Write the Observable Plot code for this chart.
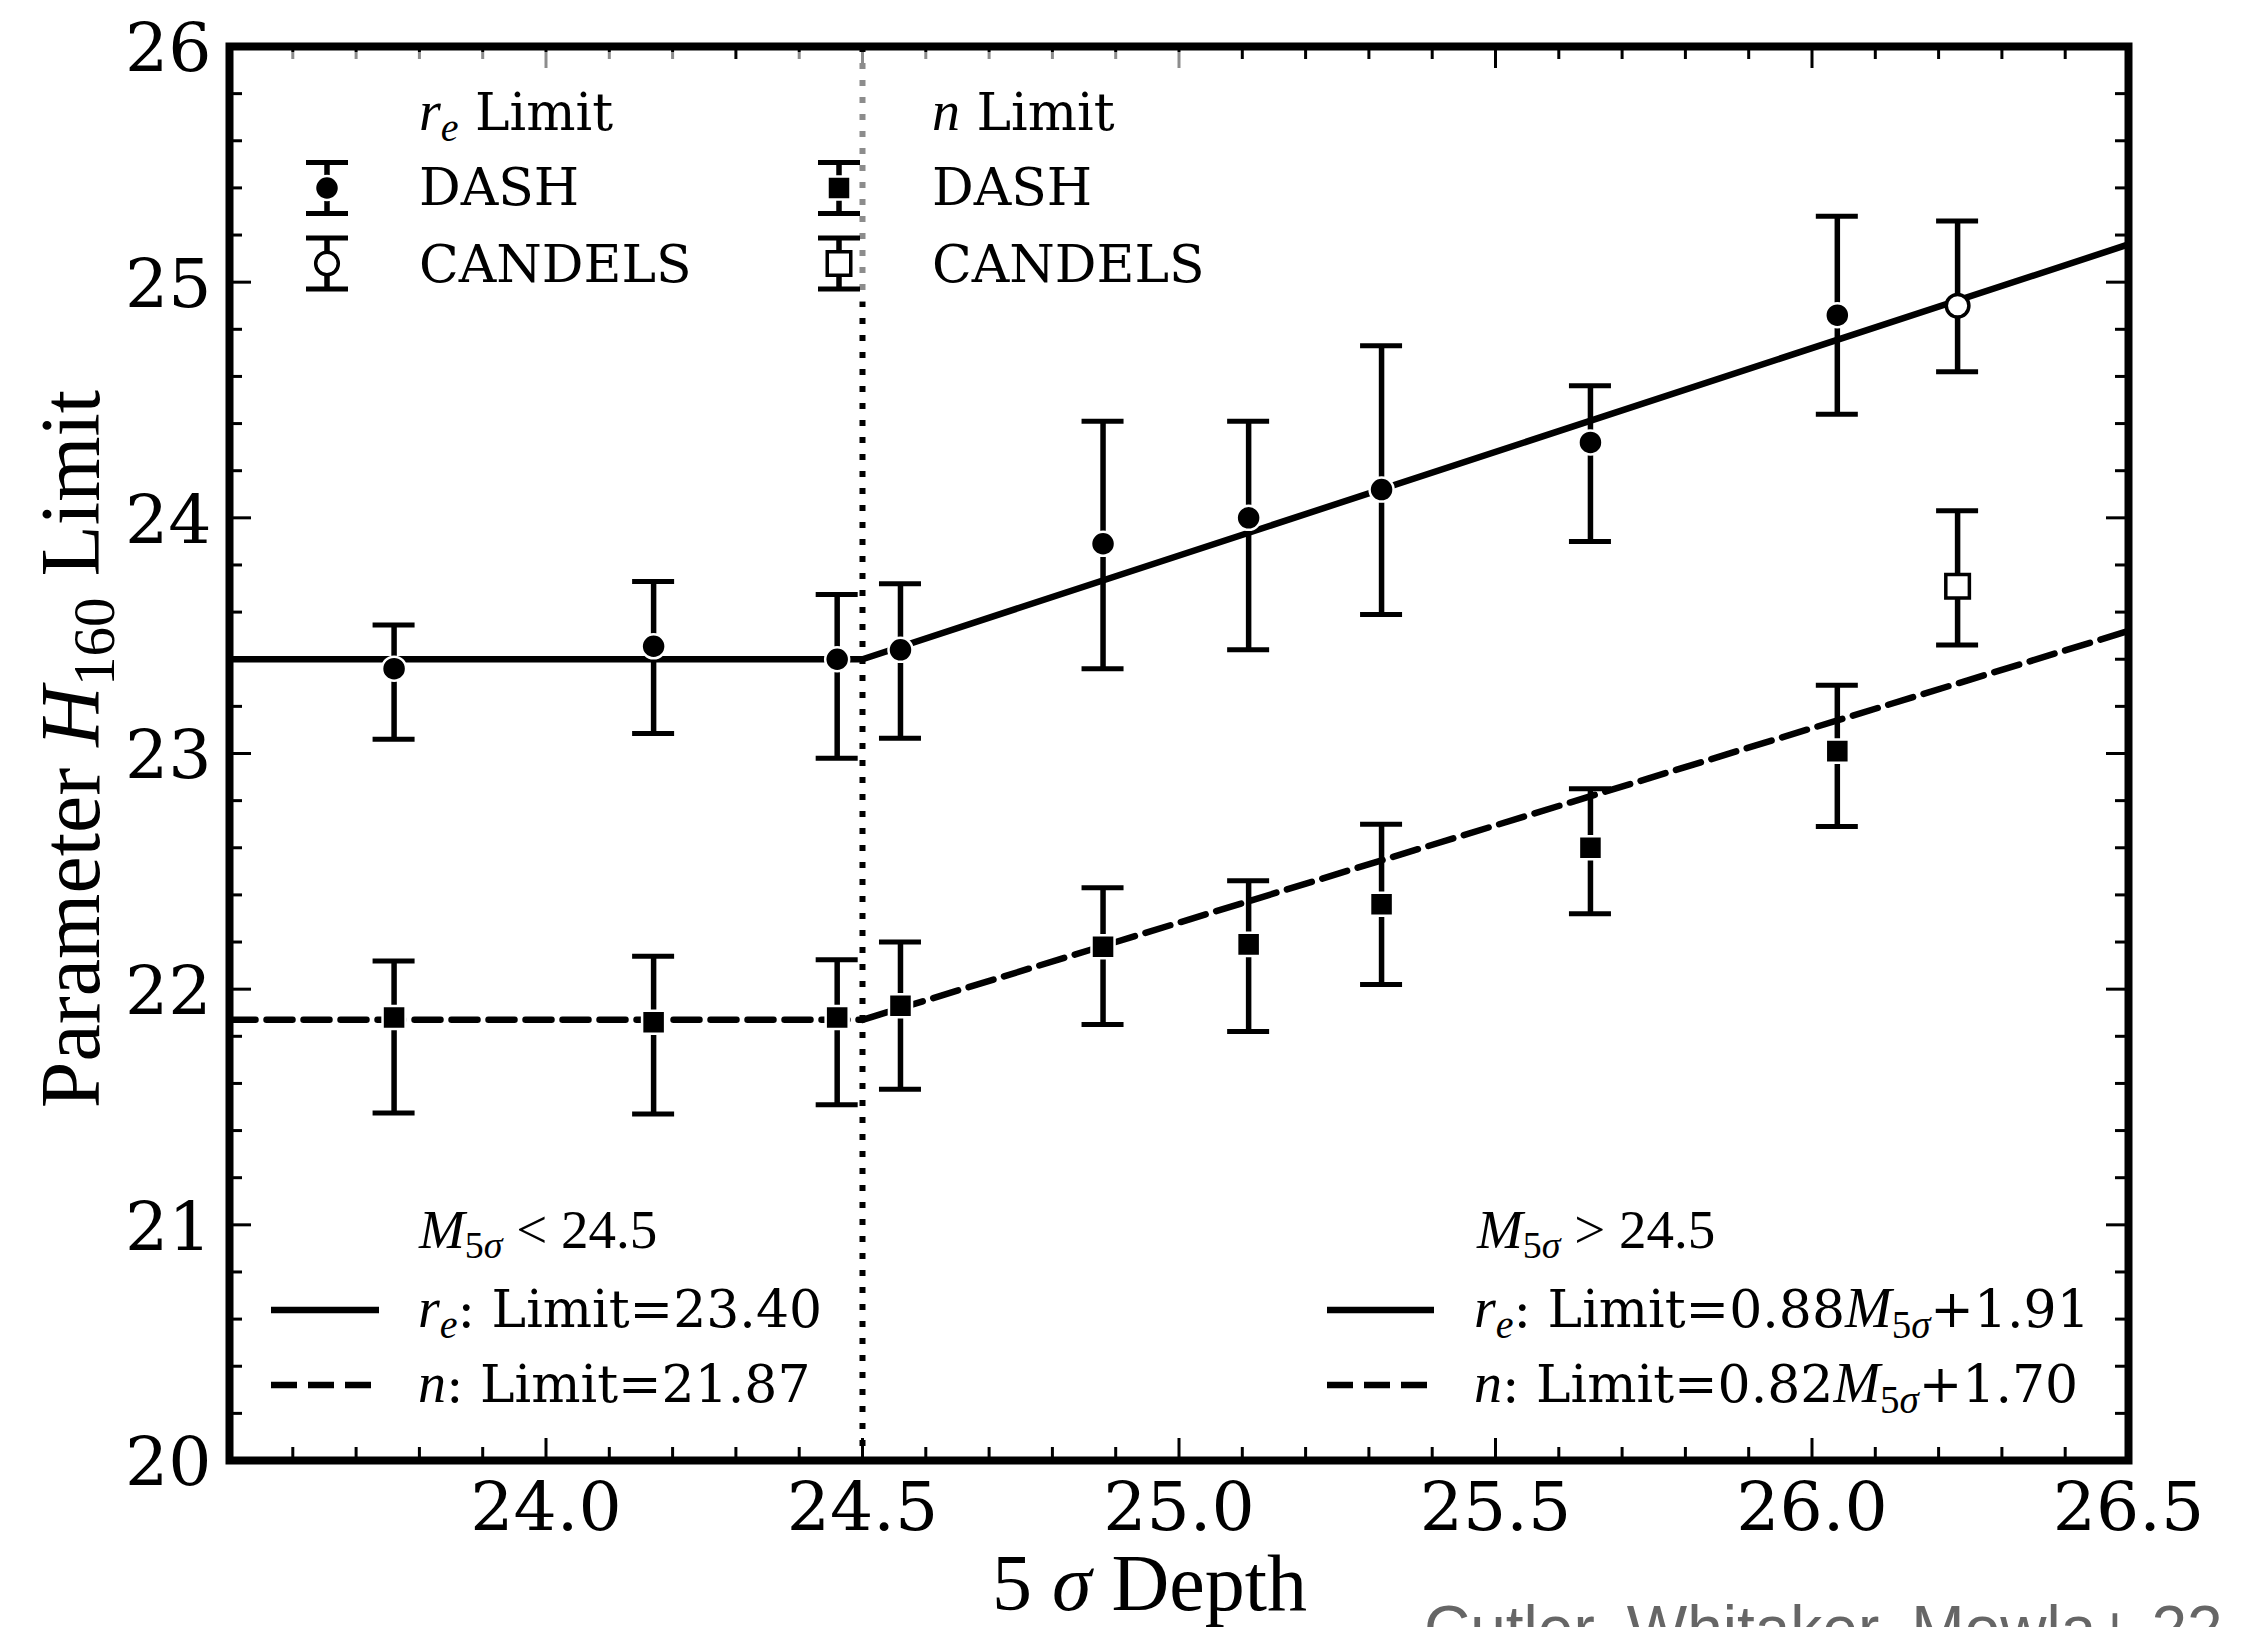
<!DOCTYPE html>
<html>
<head>
<meta charset="utf-8">
<script src="https://cdn.jsdelivr.net/npm/d3@7"></script>
<script src="https://cdn.jsdelivr.net/npm/@observablehq/plot@0.6"></script>
<style>
html, body { margin: 0; padding: 0; background: #fff; }
#wrap { position: relative; width: 2249px; height: 1627px; overflow: hidden; background: #fff; }
#caption { position: absolute; left: 1424px; top: 1597px; font-family: "Liberation Sans", Arial, sans-serif;
  font-size: 64px; line-height: 64px; color: #666; white-space: nowrap; }
</style>
</head>
<body>
<div id="wrap"><div id="caption">Cutler, Whitaker, Mowla+ 22</div></div>
<script>
// ---------------- data ----------------
const depthDash = [23.76, 24.17, 24.46, 24.56, 24.88, 25.11, 25.32, 25.65, 26.04];
const reDash    = [23.36, 23.455, 23.40, 23.44, 23.89, 24.00, 24.12, 24.32, 24.86];
const reDashLo  = [23.06, 23.085, 22.98, 23.065, 23.36, 23.44, 23.59, 23.90, 24.44];
const reDashHi  = [23.545, 23.73, 23.675, 23.72, 24.41, 24.41, 24.73, 24.56, 25.28];
const nDash     = [21.88, 21.86, 21.88, 21.93, 22.18, 22.19, 22.36, 22.60, 23.01];
const nDashLo   = [21.475, 21.47, 21.51, 21.575, 21.85, 21.82, 22.02, 22.32, 22.69];
const nDashHi   = [22.12, 22.14, 22.125, 22.20, 22.43, 22.46, 22.70, 22.85, 23.29];

const depthCandels = [26.23];
const reCandels    = [24.90];
const reCandelsLo  = [24.62];
const reCandelsHi  = [25.26];
const nCandels     = [23.71];
const nCandelsLo   = [23.46];
const nCandelsHi   = [24.03];

// fitted relations
const fitDepth   = [23.5, 24.5, 24.5, 26.5];
const fitSegment = ["low", "low", "high", "high"];
const reFit      = [23.40, 23.40, 23.40, 25.16];
const nFit       = [21.87, 21.87, 21.87, 23.52];
const breakDepth = [24.5];

const xTickValues = [24.0, 24.5, 25.0, 25.5, 26.0, 26.5];
const xTickLabels = ["24.0", "24.5", "25.0", "25.5", "26.0", "26.5"];
const yTickValues = [20, 21, 22, 23, 24, 25, 26];
const yTickLabels = ["20", "21", "22", "23", "24", "25", "26"];

// ---------------- tables ----------------
const mk = (xs, v, lo, hi) => xs.map((x, i) => ({x, v: v[i], lo: lo[i], hi: hi[i]}));
const reDashPts = mk(depthDash, reDash, reDashLo, reDashHi);
const nDashPts = mk(depthDash, nDash, nDashLo, nDashHi);
const reCandPts = mk(depthCandels, reCandels, reCandelsLo, reCandelsHi);
const nCandPts = mk(depthCandels, nCandels, nCandelsLo, nCandelsHi);
const allPts = [...reDashPts, ...nDashPts, ...reCandPts, ...nCandPts];
const fit = fitDepth.map((x, i) => ({x, seg: fitSegment[i], re: reFit[i], n: nFit[i]}));

const xMinor = d3.range(236, 265).map(v => v / 10).filter(v => !xTickValues.some(t => Math.abs(t - v) < 1e-6));
const yMinor = d3.range(101, 130).map(v => v / 5).filter(v => Math.abs(v - Math.round(v)) > 1e-6);

// ---------------- layout ----------------
const W = 2249, H = 1627;
const mL = 229, mR = 121, mT = 46, mB = 167;
const frameW = W - mL - mR, frameH = H - mT - mB;
const SERIF = "DejaVu Serif";
const MATH = "Liberation Serif";
const majorLen = 22, minorLen = 13;
const tk = {stroke: "black", strokeWidth: 3};
const capHalf = 21;

const plot = Plot.plot({
  width: W, height: H,
  marginLeft: mL, marginRight: mR, marginTop: mT, marginBottom: mB,
  style: {fontFamily: SERIF, background: "white", color: "black"},
  x: {domain: [23.5, 26.5], axis: null},
  y: {domain: [20, 26], axis: null},
  marks: [
    Plot.ruleX(breakDepth, {x: d => d, stroke: "black", strokeWidth: 6, strokeDasharray: "6,11"}),
    Plot.line(fit, {x: "x", y: "re", z: "seg", stroke: "black", strokeWidth: 6.5}),
    Plot.line(fit, {x: "x", y: "n", z: "seg", stroke: "black", strokeWidth: 6.5, strokeDasharray: "26,11"}),
    // error bars
    Plot.ruleX(allPts, {x: "x", y1: "lo", y2: "hi", stroke: "black", strokeWidth: 5.5}),
    Plot.ruleY(allPts, {y: "lo", x1: "x", x2: "x", insetLeft: -capHalf, insetRight: -capHalf, stroke: "black", strokeWidth: 5}),
    Plot.ruleY(allPts, {y: "hi", x1: "x", x2: "x", insetLeft: -capHalf, insetRight: -capHalf, stroke: "black", strokeWidth: 5}),
    // markers
    Plot.dot(reDashPts, {x: "x", y: "v", r: 12, fill: "black", stroke: "white", strokeWidth: 2.5}),
    Plot.dot(nDashPts, {x: "x", y: "v", r: 13, symbol: "square", fill: "black", stroke: "white", strokeWidth: 2.5}),
    Plot.dot(reCandPts, {x: "x", y: "v", r: 11.3, fill: "white", stroke: "black", strokeWidth: 3.5}),
    Plot.dot(nCandPts, {x: "x", y: "v", r: 13.3, symbol: "square", fill: "white", stroke: "black", strokeWidth: 3.5}),
    // inward ticks on all four sides
    Plot.tickX(xTickValues, {x: d => d, insetTop: frameH - majorLen, ...tk}),
    Plot.tickX(xTickValues, {x: d => d, insetBottom: frameH - majorLen, ...tk}),
    Plot.tickX(xMinor, {x: d => d, insetTop: frameH - minorLen, ...tk}),
    Plot.tickX(xMinor, {x: d => d, insetBottom: frameH - minorLen, ...tk}),
    Plot.tickY(yTickValues, {y: d => d, insetRight: frameW - majorLen, ...tk}),
    Plot.tickY(yTickValues, {y: d => d, insetLeft: frameW - majorLen, ...tk}),
    Plot.tickY(yMinor, {y: d => d, insetRight: frameW - minorLen, ...tk}),
    Plot.tickY(yMinor, {y: d => d, insetLeft: frameW - minorLen, ...tk}),
    // tick labels
    Plot.text(xTickValues, {x: d => d, text: (d, i) => xTickLabels[i], frameAnchor: "bottom", lineAnchor: "bottom",
      dy: 69, fontSize: 68, fontFamily: SERIF, fill: "black"}),
    Plot.text(yTickValues, {y: d => d, text: (d, i) => yTickLabels[i], frameAnchor: "left", textAnchor: "end",
      lineAnchor: "middle", dx: -18, dy: 3, fontSize: 68, fontFamily: SERIF, fill: "black"}),
    Plot.frame({stroke: "black", strokeWidth: 8})
  ]
});

document.getElementById("wrap").prepend(plot);
const svg = d3.select(plot);

// ---------------- helpers ----------------
function richText(parent, x, y, parts, transform) {
  const t = parent.append("text").attr("x", x).attr("y", y).attr("fill", "black")
    .attr("text-anchor", "start").style("white-space", "pre");
  if (transform) t.attr("transform", transform);
  let shift = 0;
  for (const p of parts) {
    const s = t.append("tspan").text(p.t).attr("font-family", p.f).attr("font-size", p.s);
    if (p.i) s.attr("font-style", "italic");
    const target = p.sub || 0;
    if (target !== shift) { s.attr("dy", target - shift); shift = target; }
  }
  return t;
}
function legendErr(g, cx, cy, shape, open) {
  const half = 25.5;
  g.append("line").attr("x1", cx).attr("x2", cx).attr("y1", cy - half).attr("y2", cy + half)
    .attr("stroke", "black").attr("stroke-width", 5.5);
  for (const yy of [cy - half, cy + half])
    g.append("line").attr("x1", cx - capHalf).attr("x2", cx + capHalf).attr("y1", yy).attr("y2", yy)
      .attr("stroke", "black").attr("stroke-width", 5);
  if (shape === "circle") {
    g.append("circle").attr("cx", cx).attr("cy", cy).attr("r", open ? 11.3 : 12)
      .attr("fill", open ? "white" : "black").attr("stroke", open ? "black" : "white").attr("stroke-width", open ? 3.5 : 2.5);
  } else {
    const s = open ? 23.5 : 23;
    g.append("rect").attr("x", cx - s / 2).attr("y", cy - s / 2).attr("width", s).attr("height", s)
      .attr("fill", open ? "white" : "black").attr("stroke", open ? "black" : "white").attr("stroke-width", open ? 3.5 : 2.5);
  }
}
function legendLine(g, x1, x2, y, dashed) {
  const l = g.append("line").attr("x1", x1).attr("x2", x2).attr("y1", y).attr("y2", y)
    .attr("stroke", "black").attr("stroke-width", 6.5);
  if (dashed) l.attr("stroke-dasharray", "26,11");
}

const LS = 52;      // legend font size
const g = svg.append("g").attr("class", "legends");

// legend frames (semi-transparent, no edge)
g.append("rect").attr("x", 285).attr("y", 52).attr("width", 440).attr("height", 250).attr("fill", "white").attr("fill-opacity", 0.55);
g.append("rect").attr("x", 795).attr("y", 52).attr("width", 440).attr("height", 250).attr("fill", "white").attr("fill-opacity", 0.55);

// top-left legend: r_e
richText(g, 419, 130, [
  {t: "r", f: MATH, s: 56, i: true}, {t: "e", f: MATH, s: 40, i: true, sub: 11}, {t: " Limit", f: SERIF, s: LS}]);
legendErr(g, 327, 188, "circle", false);
richText(g, 419, 205, [{t: "DASH", f: SERIF, s: LS}]);
legendErr(g, 327, 263.5, "circle", true);
richText(g, 419, 282, [{t: "CANDELS", f: SERIF, s: LS}]);

// top-middle legend: n
richText(g, 932, 130, [{t: "n", f: MATH, s: 56, i: true}, {t: " Limit", f: SERIF, s: LS}]);
legendErr(g, 839, 188, "square", false);
richText(g, 932, 205, [{t: "DASH", f: SERIF, s: LS}]);
legendErr(g, 839, 263.5, "square", true);
richText(g, 932, 282, [{t: "CANDELS", f: SERIF, s: LS}]);

// bottom-left legend
const TS = 55;
richText(g, 419, 1248, [
  {t: "M", f: MATH, s: TS, i: true}, {t: "5", f: MATH, s: 38, sub: 10}, {t: "σ", f: MATH, s: 38, i: true, sub: 10},
  {t: " < 24.5", f: MATH, s: TS}]);
legendLine(g, 271, 379, 1310, false);
richText(g, 418, 1327, [
  {t: "r", f: MATH, s: 56, i: true}, {t: "e", f: MATH, s: 40, i: true, sub: 11}, {t: ": Limit=23.40", f: SERIF, s: LS}]);
legendLine(g, 271, 379, 1385, true);
richText(g, 418, 1402, [{t: "n", f: MATH, s: 56, i: true}, {t: ": Limit=21.87", f: SERIF, s: LS}]);

// bottom-right legend
richText(g, 1477, 1248, [
  {t: "M", f: MATH, s: TS, i: true}, {t: "5", f: MATH, s: 38, sub: 10}, {t: "σ", f: MATH, s: 38, i: true, sub: 10},
  {t: " > 24.5", f: MATH, s: TS}]);
legendLine(g, 1327, 1434, 1310, false);
richText(g, 1474, 1327, [
  {t: "r", f: MATH, s: 56, i: true}, {t: "e", f: MATH, s: 40, i: true, sub: 11}, {t: ": Limit=0.88", f: SERIF, s: LS},
  {t: "M", f: MATH, s: 56, i: true}, {t: "5", f: MATH, s: 39, sub: 11}, {t: "σ", f: MATH, s: 39, i: true, sub: 11},
  {t: "+1.91", f: SERIF, s: LS}]);
legendLine(g, 1327, 1434, 1385, true);
richText(g, 1474, 1402, [
  {t: "n", f: MATH, s: 56, i: true}, {t: ": Limit=0.82", f: SERIF, s: LS},
  {t: "M", f: MATH, s: 56, i: true}, {t: "5", f: MATH, s: 39, sub: 11}, {t: "σ", f: MATH, s: 39, i: true, sub: 11},
  {t: "+1.70", f: SERIF, s: LS}]);

// axis labels
richText(svg, 992, 1610, [
  {t: "5", f: MATH, s: 80}, {t: " σ", f: MATH, s: 80, i: true}, {t: " Depth", f: MATH, s: 80}]);
richText(svg, 0, 0, [
  {t: "Parameter ", f: MATH, s: 84}, {t: "H", f: MATH, s: 84, i: true}, {t: "160", f: MATH, s: 59, sub: 15},
  {t: " Limit", f: MATH, s: 84}], "translate(99,749) rotate(-90)").attr("text-anchor", "middle");
</script>
</body>
</html>
